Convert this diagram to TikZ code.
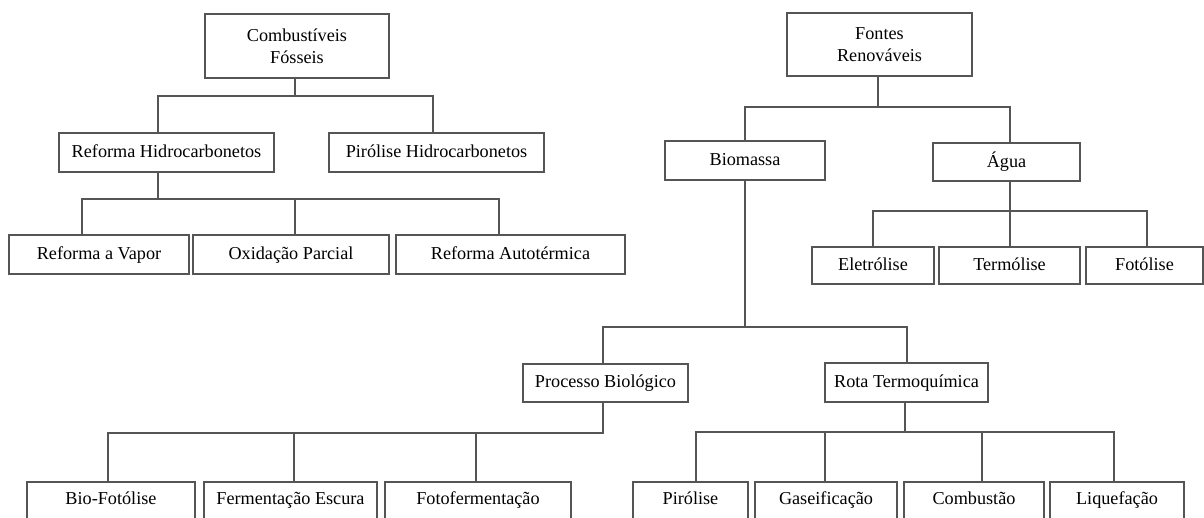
\documentclass[tikz,border=0pt]{standalone}
\usepackage{fontspec}
\setmainfont{Liberation Serif}
\definecolor{ln}{RGB}{85,85,85}
\begin{document}
\begin{tikzpicture}[x=0.5pt,y=-0.5pt,
  txt/.style={inner sep=0pt, align=center, font=\fontsize{9.1}{11}\selectfont},
  one/.style={text height=1.55ex, text depth=0.5ex},
  box/.style={txt, draw=ln, line width=1pt},
  link/.style={draw=ln, line width=1pt},
  openbox/.style={draw=ln, line width=1pt}]
\useasboundingbox (0,0) rectangle (1204,518);
\clip (0,0) rectangle (1204,518);
% left tree
\node[box, minimum width=92pt, minimum height=32pt] (fos) at (297,46) {Combustíveis\\Fósseis};
\node[box, one, minimum width=107.5pt, minimum height=19.5pt] (refh) at (166.5,152.5) {Reforma Hidrocarbonetos};
\node[box, one, minimum width=107.5pt, minimum height=19.5pt] (pirh) at (436.5,152.5) {Pirólise Hidrocarbonetos};
\node[box, one, minimum width=90pt, minimum height=19.5pt] (rav) at (99,255) {Reforma a Vapor};
\node[box, one, minimum width=98pt, minimum height=19.5pt] (oxp) at (291,255) {Oxidação Parcial};
\node[box, one, minimum width=114.5pt, minimum height=19.5pt] (rat) at (510.5,255) {Reforma Autotérmica};
% right tree
\node[box, minimum width=92.5pt, minimum height=31.5pt] (ren) at (879.5,44.5) {Fontes\\Renováveis};
\node[box, one, minimum width=80pt, minimum height=19.5pt] (bio) at (745,160.5) {Biomassa};
\node[box, one, minimum width=73.5pt, minimum height=19pt] (agua) at (1006.5,162.5) {Água};
\node[box, one, minimum width=61pt, minimum height=18.5pt] (ele) at (873,265.5) {Eletrólise};
\node[box, one, minimum width=70.5pt, minimum height=18.5pt] (ter) at (1009.5,265.5) {Termólise};
\node[box, one, minimum width=58.5pt, minimum height=18.5pt] (fot) at (1144.5,265.5) {Fotólise};
\node[box, one, minimum width=82.5pt, minimum height=19pt] (pbio) at (605.5,383) {Processo Biológico};
\node[box, one, minimum width=81.5pt, minimum height=19.5pt] (rota) at (906.5,382.5) {Rota Termoquímica};
% bottom row (cut by the lower edge)
\node[txt, one, minimum width=84pt, minimum height=18pt] (bfot) at (111,500) {Bio-Fotólise};
\node[txt, one, minimum width=86.5pt, minimum height=18pt] (fesc) at (290.5,500) {Fermentação Escura};
\node[txt, one, minimum width=93pt, minimum height=18pt] (ffer) at (478,500) {Fotofermentação};
\node[txt, one, minimum width=57.5pt, minimum height=18pt] (pir) at (690.5,500) {Pirólise};
\node[txt, one, minimum width=71pt, minimum height=18pt] (gas) at (826,500) {Gaseificação};
\node[txt, one, minimum width=70pt, minimum height=18pt] (comb) at (974,500) {Combustão};
\node[txt, one, minimum width=67pt, minimum height=18pt] (liq) at (1117,500) {Liquefação};
\foreach \n in {bfot,fesc,ffer,pir,gas,comb,liq}
  \draw[openbox] ([yshift=-4pt]\n.south west) |- (\n.north) -| ([yshift=-4pt]\n.south east);
% connectors
\coordinate (bfos) at (295,96);
\draw[link] (fos.south -| bfos) -- (bfos) -| ([xshift=-4.25pt]refh.north);
\draw[link] (bfos) -| ([xshift=-1.75pt]pirh.north);
\coordinate (brefh) at (158,199);
\draw[link] (refh.south -| brefh) -- (brefh) -| ([xshift=-8.75pt]rav.north);
\draw[link] (brefh) -| ([xshift=2pt]oxp.north);
\draw[link] (brefh) -| ([xshift=-5.75pt]rat.north);
\coordinate (bren) at (877.7,106.7);
\draw[link] (ren.south -| bren) -- (bren) -| (bio.north);
\draw[link] (bren) -| ([xshift=1.75pt]agua.north);
\coordinate (bagua) at (1010,210.7);
\draw[link] (agua.south -| bagua) -- (bagua) -| (ele.north);
\draw[link] (bagua) -| ([xshift=0.25pt]ter.north);
\draw[link] (bagua) -| ([xshift=1.25pt]fot.north);
\coordinate (bbio) at (745,327);
\draw[link] (bio.south -| bbio) -- (bbio) -| ([xshift=-1.25pt]pbio.north);
\draw[link] (bbio) -| ([xshift=0.25pt]rota.north);
\coordinate (bpbio) at (603,432.5);
\draw[link] (pbio.south -| bpbio) -- (bpbio) -| ([xshift=-1.5pt]bfot.north);
\draw[link] (bpbio) -| ([xshift=1.5pt]fesc.north);
\draw[link] (bpbio) -| ([xshift=-1pt]ffer.north);
\coordinate (brota) at (905,432.3);
\draw[link] (rota.south -| brota) -- (brota) -| ([xshift=2.5pt]pir.north);
\draw[link] (brota) -| ([xshift=-0.5pt]gas.north);
\draw[link] (brota) -| ([xshift=4pt]comb.north);
\draw[link] (brota) -| ([xshift=-1.5pt]liq.north);
\end{tikzpicture}
\end{document}
